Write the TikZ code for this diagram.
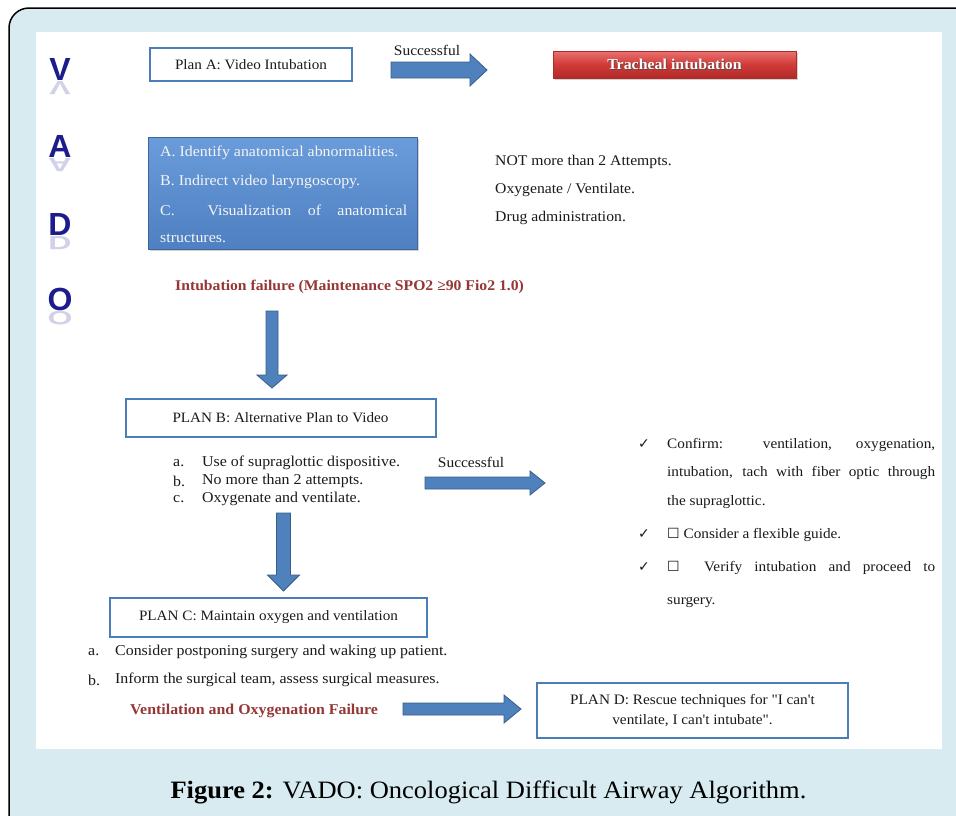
\documentclass[tikz,border=0pt]{standalone}
\usepackage{fontspec}
\setmainfont[FakeStretch=1.06]{Liberation Serif}
\newfontfamily\qf[FakeStretch=1.06,Ligatures=TeXOff]{Liberation Serif}
\newfontfamily\symf{DejaVu Sans}
\newfontfamily\vadof{Liberation Sans}
\usetikzlibrary{calc,shadows}
\definecolor{bgblue}{HTML}{D8EBF0}
\definecolor{boxblue}{HTML}{4A7EBB}
\definecolor{arrfill}{HTML}{4F81BD}
\definecolor{arrline}{HTML}{385D8A}
\definecolor{navy}{HTML}{1C1C8C}
\definecolor{failred}{HTML}{953735}
\definecolor{txt}{HTML}{1A1A1A}
\definecolor{bluetop}{HTML}{6A9BDA}
\definecolor{bluebot}{HTML}{4E80C2}
\definecolor{redtop}{HTML}{E87270}
\definecolor{redmid}{HTML}{D23A37}
\definecolor{redbot}{HTML}{B02A28}
\newcommand\harrow[5]{%
 \draw[blockarrow] ($(#1)+(0,-#3)$) -- ($(#2)+(-#5,-#3)$) -- ($(#2)+(-#5,-#4)$) -- (#2) -- ($(#2)+(-#5,#4)$) -- ($(#2)+(-#5,#3)$) -- ($(#1)+(0,#3)$) -- cycle;}
\newcommand\varrow[5]{%
 \draw[blockarrow] ($(#1)+(-#3,0)$) -- ($(#2)+(-#3,-#5)$) -- ($(#2)+(-#4,-#5)$) -- (#2) -- ($(#2)+(#4,-#5)$) -- ($(#2)+(#3,-#5)$) -- ($(#1)+(#3,0)$) -- cycle;}
\newcommand\sq{{\symf\fontsize{14}{14}\selectfont ☐}}
\newcommand\dq{{\qf"}}
\newcommand\ap{{\qf'}}
\begin{document}
\begin{tikzpicture}[x=1pt,y=-1pt,
  planbox/.style={draw=boxblue, line width=2pt, fill=white, inner sep=0pt, align=center, text=txt, font=\fontsize{14.3}{20}\selectfont},
  blockarrow/.style={fill=arrfill, draw=arrline, line width=0.8pt, line join=miter},
  body/.style={text=txt, font=\fontsize{14.8}{16}\selectfont, inner sep=0pt, anchor=west},
  small/.style={text=txt, font=\fontsize{15}{16}\selectfont, inner sep=0pt, anchor=west},
  chkbody/.style={text=txt, font=\fontsize{14.4}{16}\selectfont, inner sep=0pt, anchor=west},
  fail/.style={text=failred, font=\bfseries\fontsize{14.8}{16}\selectfont, inner sep=0pt},
  succ/.style={text=txt, font=\fontsize{14.6}{16}\selectfont, inner sep=0pt},
  letter/.style={text=navy, font=\vadof\bfseries\fontsize{32}{32}\selectfont, inner sep=0pt, anchor=base},
  refl/.style={text=navy, text opacity=0.2, font=\vadof\bfseries\fontsize{32}{32}\selectfont, inner sep=0pt, anchor=north},
  wtxt/.style={text=white!96!black, font=\fontsize{15}{16}\selectfont, inner sep=0pt, anchor=west},
  chk/.style={text=txt, font=\symf\fontsize{14}{14}\selectfont, inner sep=0pt},
]
\useasboundingbox (0,0) rectangle (956,815);
\clip (0,0) rectangle (956,815);
% frame and panel
\draw[black, line width=1.5pt, fill=bgblue, rounded corners=20pt] (9,8) rectangle (1000,860);
\fill[white] (36,32) rectangle (942,749);

% VADO letters
\foreach \l/\y/\n in {V/80/lv, A/157/la, D/235/ld, O/310/lo}{
  \node[letter] (\n) at (60,\y) {\l};
  \node[refl] (\n r) at (60,\y+1) {\scalebox{1}[-0.6]{\l}};
}

% Plan A
\node[planbox, minimum width=202pt, minimum height=33pt] (planA) at (251,64.5) {Plan A: Video Intubation};
\node[succ] (succ1) at (427,50) {Successful};
\coordinate (s1) at (391,70);
\coordinate (e1) at (487,70);
\harrow{s1}{e1}{8}{16}{17}

% Tracheal intubation
\node[minimum width=243pt, minimum height=27pt, inner sep=0pt,
  top color=redtop, bottom color=redbot, middle color=redmid,
  draw=redbot, line width=0.5pt,
  drop shadow={shadow xshift=1.5pt, shadow yshift=-2pt, opacity=0.35}] (trach) at (674.5,64.5) {};
\node[text=black!70, font=\bfseries\fontsize{15}{17}\selectfont, inner sep=0pt] at ($(trach.center)+(0.8,1)$) {Tracheal intubation};
\node[text=white, font=\bfseries\fontsize{15}{17}\selectfont, inner sep=0pt] (trachtxt) at (trach.center) {Tracheal intubation};

% blue box
\node[minimum width=269pt, minimum height=112pt, inner sep=0pt,
  top color=bluetop, bottom color=bluebot, draw=bluebot!80!black, line width=0.5pt,
  drop shadow={shadow xshift=1.5pt, shadow yshift=-2pt, opacity=0.35}] (bluebox) at (282.5,193) {};
\node[wtxt] (b1) at (160,153) {A. Identify anatomical abnormalities.};
\node[wtxt] (b2) at (160,182) {B. Indirect video laryngoscopy.};
\node[wtxt] (b3) at (160,210) {\makebox[247pt][s]{C.\ \ Visualization of anatomical}};
\node[wtxt] (b4) at (160,238) {structures.};

% notes right
\node[body] (n1) at (495,162) {NOT more than 2 Attempts.};
\node[body] (n2) at (495,190) {Oxygenate / Ventilate.};
\node[body] (n3) at (495,218) {Drug administration.};

% intubation failure
\node[fail, anchor=west] (ifail) at (175,287) {Intubation failure (Maintenance SPO2 ≥90 Fio2 1.0)};
\coordinate (s2) at (272,311);
\coordinate (e2) at (272,388);
\varrow{s2}{e2}{6}{15}{13}

% Plan B
\node[planbox, minimum width=310pt, minimum height=38pt] (planB) at (280.5,417.5) {PLAN B: Alternative Plan to Video};
\node[small] (la) at (173,463) {a.};
\node[small] (lb) at (173,481) {b.};
\node[small] (lc) at (173,499) {c.};
\node[small] (ta) at (202,463) {Use of supraglottic dispositive.};
\node[small] (tb) at (202,481) {No more than 2 attempts.};
\node[small] (tc) at (202,499) {Oxygenate and ventilate.};
\node[succ] (succ2) at (471,462) {Successful};
\coordinate (s3) at (425,483);
\coordinate (e3) at (545,483);
\harrow{s3}{e3}{6}{12}{15}

% check list
\node[chk] (c1) at (644,444) {✓};
\node[chk] (c2) at (644,534) {✓};
\node[chk] (c3) at (644,567) {✓};
\node[chkbody] (k1) at (667,445) {\makebox[268pt][s]{Confirm:\ \ ventilation, oxygenation,}};
\node[chkbody] (k2) at (667,473) {\makebox[268pt][s]{intubation, tach with fiber optic through}};
\node[chkbody] (k3) at (667,502) {the supraglottic.};
\node[chkbody] (k4) at (667,535) {\sq\ Consider a flexible guide.};
\node[chkbody] (k5) at (667,568) {\makebox[268pt][s]{\sq\ \ Verify intubation and proceed to}};
\node[chkbody] (k6) at (667,602) {surgery.};

% Plan B -> Plan C arrow
\coordinate (s4) at (283.5,513);
\coordinate (e4) at (283.5,591);
\varrow{s4}{e4}{7}{16}{16}

% Plan C
\node[planbox, minimum width=317pt, minimum height=39pt] (planC) at (268.5,617.5) {PLAN C: Maintain oxygen and ventilation};
\node[small] (pa) at (88,652) {a.};
\node[small] (pb) at (88,680) {b.};
\node[small] (qa) at (115,652) {Consider postponing surgery and waking up patient.};
\node[small] (qb) at (115,680) {Inform the surgical team, assess surgical measures.};
\node[fail, anchor=west, font=\bfseries\fontsize{15}{16}\selectfont] (vfail) at (130,711) {Ventilation and Oxygenation Failure};
\coordinate (s5) at (403,709);
\coordinate (e5) at (521,709);
\harrow{s5}{e5}{6}{14}{17}

% Plan D
\node[planbox, minimum width=311pt, minimum height=55pt, font=\fontsize{14.4}{20}\selectfont] (planD) at (692.5,710.5) {PLAN D: Rescue techniques for \dq I can\ap t\\ventilate, I can\ap t intubate\dq.};

% caption
\node[text=black, font=\fontsize{25}{28}\selectfont, inner sep=0pt] (cap) at (488.5,792) {\textbf{Figure 2:} VADO: Oncological Difficult Airway Algorithm.};
\end{tikzpicture}
\end{document}
